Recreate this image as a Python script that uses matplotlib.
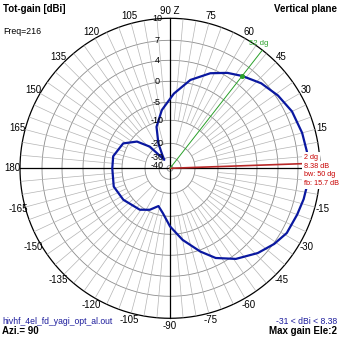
import numpy as np
import matplotlib
matplotlib.use("Agg")
import matplotlib.pyplot as plt

plt.rcParams['font.family'] = ['Liberation Sans', 'DejaVu Sans']

# ---- data ----
elev_deg = [0, 2, 7, 15, 25, 34, 43, 52, 59, 67, 77, 87, 98, 108, 115, 120, 124,
            133, 141, 152, 168, 180, 198, 214, 234, 244, 253, 261, 270, 280, 290,
            297, 306, 316, 324, 331, 340, 347, 352, 360]
gain_dbi = [8.35, 8.38, 8.35, 8.2, 7.9, 7.3, 6.5, 5.38, 4.5, 3.1, 0.7, -2.9, -7.0,
            -11.9, -18.9, -27.0, -31.0, -18.0, -12.4, -8.6, -7.2, -7.3, -6.9, -7.7,
            -9.1, -10.8, -13.7, -11.1, -7.2, -3.4, 0.3, 2.6, 4.6, 6.1, 7.1, 7.75,
            8.0, 8.25, 8.35, 8.35]

ring_levels = [10, 7, 4, 0, -5, -10, -20, -30, -40]
ring_labels = ['10', '7', '4', '0', '-5', '-10', '-20', '-30', '-40']

angle_ticks = [15, 30, 45, 60, 75, 90, 105, 120, 135, 150, 165, 180,
               -165, -150, -135, -120, -105, -90, -75, -60, -45, -30, -15]
angle_labels = ['15', '30', '45', '60', '75', '90 Z', '105', '120', '135', '150',
                '165', '180', '-165', '-150', '-135', '-120', '-105', '-90',
                '-75', '-60', '-45', '-30', '-15']

max_gain_elev = 2
max_gain = 8.38
min_gain = -31
beamwidth = 50
front_back = 15.7
half_power_elev = 52
half_power_gain = 5.38
freq = 216
azimuth = 90
file_name = 'hivhf_4el_fd_yagi_opt_al.out'

# ---- radial scale of the plot (dB -> radius in px) ----
SCALE_DB = [-43.75, -40, -30, -20, -10, -5, 0, 4, 7, 10]
SCALE_PX = [0, 3, 11, 25, 48, 66, 87, 108, 128, 150]


def rad(db):
    return np.interp(db, SCALE_DB, SCALE_PX)


W = H = 339
fig = plt.figure(figsize=(W / 100, H / 100), dpi=100)
fig.patch.set_facecolor('white')
cx, cy, R = 170, 168.3, 150
ax = fig.add_axes([(cx - R) / W, (H - cy - R) / H, 2 * R / W, 2 * R / H],
                  projection='polar')
ax.set_axis_off()
ax.set_ylim(0, R)

# rings
th_full = np.linspace(0, 2 * np.pi, 721)
for lv in ring_levels:
    outer = lv == ring_levels[0]
    ax.plot(th_full, np.full_like(th_full, rad(lv)),
            color='black' if outer else '#8c8c8c', lw=0.9 if outer else 0.6,
            zorder=1, clip_on=False)

# spokes
for a in range(0, 360, 5):
    if a % 90 == 0:
        continue
    r0 = rad(-20) if a % 15 == 0 else rad(-10)
    ax.plot([np.deg2rad(a)] * 2, [r0, R], color='#b4b4b4', lw=0.5, zorder=1)

# main axes
for a in (0, 90, 180, 270):
    ax.plot([np.deg2rad(a)] * 2, [0, R], color='black', lw=0.9, zorder=1.5,
            clip_on=False)

# max gain marker line (red) and half power line (green)
ax.plot([np.deg2rad(max_gain_elev)] * 2, [0, R], color='#b82828', lw=1.2,
        zorder=2, clip_on=False)
ax.plot([np.deg2rad(half_power_elev)] * 2, [0, R], color='#2aa02a', lw=0.7,
        zorder=2, clip_on=False)

# pattern
th = np.deg2rad(elev_deg)
ax.plot(th, rad(np.array(gain_dbi)), color='#0a18a0', lw=1.6, zorder=3,
        clip_on=False, solid_joinstyle='round')
ax.plot([np.deg2rad(half_power_elev)], [rad(half_power_gain)], 'o', ms=2.6,
        color='#2aa02a', zorder=4)

# angle labels
for a, lab in zip(angle_ticks, angle_labels):
    ax.text(np.deg2rad(a), 157.5, lab, ha='center', va='center', fontsize=7,
            clip_on=False)

# ring labels
for lv, lab in zip(ring_levels, ring_labels):
    ax.annotate(lab, xy=(np.pi / 2, rad(lv)), xytext=(-9.4, 0),
                textcoords='offset points', ha='center', va='center',
                fontsize=6.5, zorder=4)


def ftext(px, py, s, **kw):
    fig.text(px / W, 1 - py / H, s, **kw)


# marker annotations
red = '#c80000'
bb = dict(facecolor='white', edgecolor='none', pad=1.2)
fs_m = 5.2
ftext(304, 157.5, f'{max_gain_elev} dg', color=red, fontsize=fs_m, va='center',
      ha='left', bbox=bb, zorder=5)
ftext(304, 166, f'{max_gain} dB', color=red, fontsize=fs_m, va='center',
      ha='left', bbox=bb, zorder=5)
ftext(304, 175, f'bw: {beamwidth} dg', color=red, fontsize=fs_m, va='center',
      ha='left', bbox=bb, zorder=5)
ftext(304, 183.5, f'fb: {front_back} dB', color=red, fontsize=fs_m,
      va='center', ha='left', bbox=bb, zorder=5)
ftext(259, 43.5, f'{half_power_elev} dg', color='#2aa02a', fontsize=5.5,
      va='center', ha='center')

# header / footer texts
ftext(3, 4, 'Tot-gain [dBi]', fontsize=7, fontweight='bold', va='top',
      ha='left')
ftext(3, 27, f'Freq={freq}', fontsize=6.3, va='top', ha='left')
ftext(337, 4, 'Vertical plane', fontsize=7, fontweight='bold', va='top',
      ha='right')
ftext(2, 321.5, file_name, fontsize=6.2, color='#1c1c9c', va='center',
      ha='left')
ftext(2, 330.5, f'Azi.= {azimuth}', fontsize=7, fontweight='bold',
      va='center', ha='left')
ftext(337, 321.5, f'{min_gain} < dBi < {max_gain}', fontsize=6.2,
      color='#1c1c9c', va='center', ha='right')
ftext(337, 330.5, f'Max gain Ele:{max_gain_elev}', fontsize=7,
      fontweight='bold', va='center', ha='right')

fig.savefig('out.png', dpi=100, facecolor='white')
